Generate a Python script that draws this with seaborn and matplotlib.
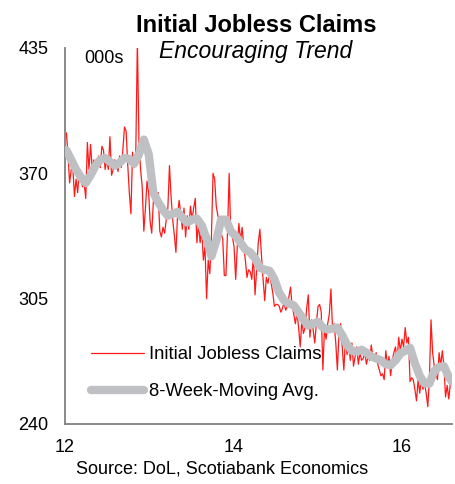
import numpy as np
import pandas as pd
import matplotlib
matplotlib.use("Agg")
import matplotlib.pyplot as plt
import seaborn as sns

# ---------------- data (thousands, weekly) ----------------
claims = [
    391, 380, 365, 372, 373, 358, 367, 360, 372, 368,
    363, 365, 357, 386, 372, 385, 372, 377, 370, 375,
    379, 373, 384, 382, 372, 377, 372, 389, 369, 372,
    377, 375, 371, 379, 373, 382, 394, 392, 375, 360,
    349, 381, 373, 380, 439, 386, 372, 363, 340, 352,
    366, 360, 345, 339, 355, 365, 355, 360, 340, 337,
    342, 339, 346, 352, 374, 358, 346, 338, 329, 348,
    356, 349, 341, 352, 337, 348, 341, 353, 346, 352,
    357, 334, 344, 334, 341, 325, 332, 305, 325, 318,
    337, 370, 367, 353, 348, 346, 339, 336, 317, 317,
    340, 370, 338, 337, 332, 315, 332, 344, 335, 342,
    332, 325, 316, 320, 319, 315, 328, 307, 320, 334,
    341, 327, 315, 304, 316, 313, 318, 313, 308, 301,
    302, 302, 301, 298, 300, 303, 299, 301, 306, 311,
    301, 297, 292, 298, 290, 280, 294, 287, 290, 300,
    307, 285, 294, 289, 282, 292, 301, 302, 298, 268,
    289, 284, 292, 297, 310, 289, 292, 282, 268, 287,
    292, 280, 268, 284, 276, 282, 273, 282, 270, 275,
    280, 271, 277, 273, 274, 277, 271, 275, 273, 281,
    275, 273, 277, 271, 268, 265, 266, 263, 278, 270,
    275, 265, 273, 277, 280, 272, 285, 278, 284, 280,
    290, 282, 285, 262, 264, 263, 258, 252, 263, 256,
    263, 258, 261, 256, 249, 264, 294, 277, 270, 266,
    263, 277, 270, 278, 270, 254, 260, 253, 261, 263,
]

# 8-week moving average every third week (last point = final week)
moving_avg = [
    382, 377, 372, 368, 365, 369, 374, 377, 378, 376,
    374, 375.5, 378, 377.5, 375, 380, 387.5, 380, 360, 355,
    351, 348, 349, 350, 347, 344.5, 346, 346.5, 343, 336,
    327, 335, 346, 346, 340, 337.5, 334, 330.5, 329, 326,
    321, 320, 319.5, 315, 308, 304, 302.5, 301.5, 298, 294,
    291, 292, 293, 290, 289, 289.5, 290, 286, 281, 278,
    277.5, 278.5, 277, 275, 274, 273, 271, 270.5, 273, 276.5,
    278, 279.5, 271.5, 265, 261, 261, 267.5, 269.5, 270, 264.5,
    262,
]

y_ticks = [240, 305, 370, 435]
x_tick_years = [2012, 2014, 2016]
x_tick_labels = ["12", "14", "16"]

# ---------------- build frames ----------------
dates = pd.date_range("2012-01-07", periods=len(claims), freq="W-SAT")
dec_year = dates.year + (dates.dayofyear - 1) / 365.25
df = pd.DataFrame({"year": dec_year, "value": claims})

ma_idx = list(range(0, 3 * (len(moving_avg) - 1), 3)) + [len(claims) - 1]
df_ma = pd.DataFrame({"year": dec_year[ma_idx], "value": moving_avg})

# ---------------- figure ----------------
sns.set_style("white")
plt.rcParams["font.family"] = ["Liberation Sans", "DejaVu Sans"]
plt.rcParams["text.color"] = "black"
plt.rcParams["axes.labelcolor"] = "black"

W, H = 455, 484
fig = plt.figure(figsize=(W / 100, H / 100), dpi=100)
ax = fig.add_axes([65 / W, 1 - 424 / H, (452 - 65) / W, (424 - 48) / H])

sns.lineplot(data=df, x="year", y="value", ax=ax, color="#FF1A1A", lw=0.9,
             label="Initial Jobless Claims", zorder=2)
sns.lineplot(data=df_ma, x="year", y="value", ax=ax, color="#BFC0C4", lw=6,
             solid_capstyle="round", solid_joinstyle="round",
             label="8-Week-Moving Avg.", zorder=3)

ax.set_xlim(2012, dec_year[-1])
ax.set_ylim(240, 435)
ax.set_yticks(y_ticks)
ax.set_xticks(x_tick_years)
ax.set_xticklabels(x_tick_labels)
ax.set_xlabel("")
ax.set_ylabel("")

for s in ["top", "right"]:
    ax.spines[s].set_visible(False)
for s in ["left", "bottom"]:
    ax.spines[s].set_color("#808080")
    ax.spines[s].set_linewidth(1.3)

ax.tick_params(axis="y", direction="in", length=5, width=1.3, color="#808080",
               labelsize=13, pad=12, labelcolor="black")
ax.tick_params(axis="x", direction="out", length=5, width=1.3, color="#808080",
               labelsize=13, pad=6, labelcolor="black")

leg = ax.legend(loc="upper left", bbox_to_anchor=(0.049, 0.226), frameon=False,
                fontsize=13.3, handlelength=2.85, handletextpad=0.28,
                labelspacing=1.07, borderaxespad=0)
for t in leg.get_texts():
    t.set_color("black")

fig.text(256 / W, 1 - 32 / H, "Initial Jobless Claims", ha="center", va="baseline",
         fontsize=17, fontweight="bold", color="black")
fig.text(256 / W, 1 - 58 / H, "Encouraging Trend", ha="center", va="baseline",
         fontsize=16.5, fontstyle="italic", color="black")
fig.text(84 / W, 1 - 63 / H, "000s", ha="left", va="baseline", fontsize=13,
         color="black")
fig.text(222 / W, 1 - 474 / H, "Source: DoL, Scotiabank Economics", ha="center",
         va="baseline", fontsize=13, color="black")

fig.savefig("out.png", dpi=100)
